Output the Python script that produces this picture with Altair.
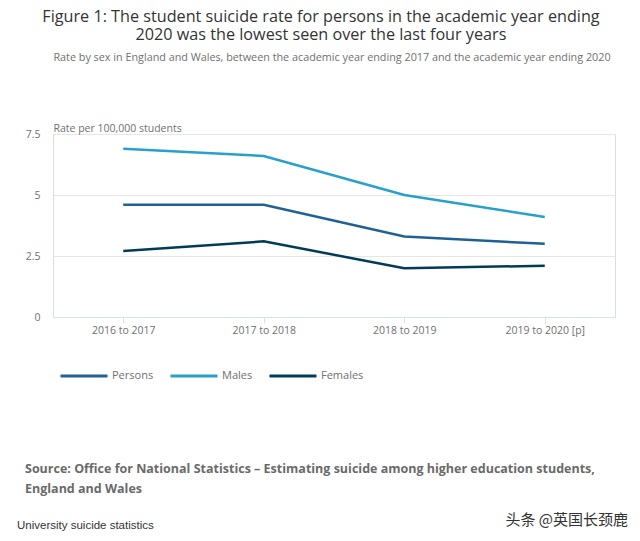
import altair as alt
import pandas as pd

categories = ["2016 to 2017", "2017 to 2018", "2018 to 2019", "2019 to 2020 [p]"]
persons = [4.6, 4.6, 3.3, 3.0]
males = [6.9, 6.6, 5.0, 4.1]
females = [2.7, 3.1, 2.0, 2.1]
series_names = ["Persons", "Males", "Females"]
series_colors = ["#206095", "#27A0CC", "#003C57"]
y_ticks = [0, 2.5, 5, 7.5]

rows = []
for name, vals in zip(series_names, [persons, males, females]):
    for c, v in zip(categories, vals):
        rows.append({"year": c, "series": name, "rate": v})
df = pd.DataFrame(rows)

title_lines = ["Figure 1: The student suicide rate for persons in the academic year ending",
               "2020 was the lowest seen over the last four years"]
subtitle = "Rate by sex in England and Wales, between the academic year ending 2017 and the academic year ending 2020"
source_lines = ["Source: Office for National Statistics \u2013 Estimating suicide among higher education students,",
                "England and Wales"]
footer_left = "University suicide statistics"
footer_right = "头条 @英国长颈鹿"

W, H = 562, 183
PL, PT = 45, 126

lines = alt.Chart(df).mark_line(strokeWidth=2.5).encode(
    x=alt.X("year:N", sort=categories, scale=alt.Scale(type="point", padding=0.5),
            axis=alt.Axis(title=None, labelAngle=0, labelColor="#707070", labelFontSize=10.5,
                          labelFont="Open Sans", domainColor="#d5e2f2", tickColor="#d5e2f2",
                          tickSize=6, labelPadding=2, grid=False)),
    y=alt.Y("rate:Q", scale=alt.Scale(domain=[0, 7.5], nice=False),
            axis=alt.Axis(values=y_ticks, labelExpr="'' + datum.value", title="Rate per 100,000 students",
                          titleAngle=0, titleAlign="left", titleBaseline="alphabetic",
                          titleX=0, titleY=-3, titleFont="Open Sans", titleFontSize=10.5,
                          titleFontWeight="normal", titleColor="#707070",
                          labelColor="#707070", labelFontSize=10.5, labelFont="Open Sans",
                          labelPadding=13, domain=False, ticks=False,
                          gridColor="#e6e6e6", gridWidth=1)),
    color=alt.Color("series:N", sort=series_names,
                    scale=alt.Scale(domain=series_names, range=series_colors),
                    legend=alt.Legend(title=None, orient="none", legendX=6, legendY=217,
                                      direction="horizontal", symbolType="stroke",
                                      symbolSize=2209, symbolStrokeWidth=3,
                                      labelFontSize=11, labelColor="#707070",
                                      labelFont="Open Sans", columnPadding=10, labelOffset=3)),
)

def txt(text, x, y, size, color, weight="normal", font="Open Sans", align="left",
        baseline="middle", line_height=None):
    kw = dict(align=align, baseline=baseline, fontSize=size, color=color, fontWeight=weight, font=font)
    if line_height is not None:
        kw["lineHeight"] = line_height
        kw["lineBreak"] = "\n"
    return alt.Chart(pd.DataFrame({"t": [text]})).mark_text(**kw).encode(
        text="t:N", x=alt.value(x - 8 - PL), y=alt.value(y - 8 - PT))

layers = [
    lines,
    txt("\n".join(title_lines), 321, 22, 16.2, "#333333", align="center",
        baseline="alphabetic", line_height=18),
    txt(subtitle, 332, 58, 10.8, "#707070", align="center"),
    txt("\n".join(source_lines), 25, 473, 12.5, "#6a6a6a", weight="bold",
        baseline="alphabetic", line_height=20),
    txt(footer_left, 17, 526, 11.5, "#333333", font="Liberation Sans"),
    txt(footer_right, 628, 520, 15, "#333333", font="Noto Sans CJK SC", align="right"),
]

chart = alt.layer(*layers).properties(
    width=W, height=H,
    autosize=alt.AutoSizeParams(type="none"),
    padding={"left": PL, "top": PT, "right": 624 - PL - W, "bottom": 525 - PT - H},
).configure_view(stroke=None).configure(background="white")

chart.save("out.html", embed_options={"renderer": "svg", "actions": False})
